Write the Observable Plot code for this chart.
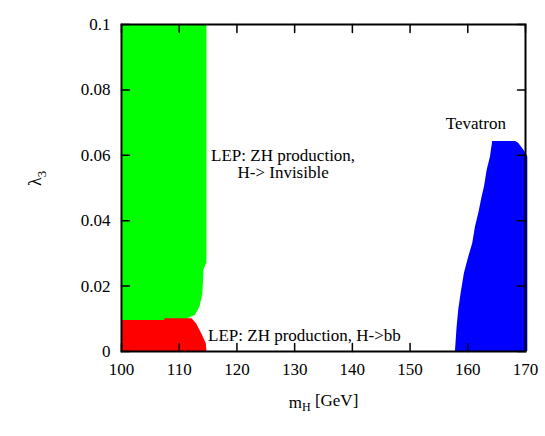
<!DOCTYPE html>
<html><head><meta charset="utf-8">
<script src="https://cdn.jsdelivr.net/npm/d3@7"></script>
<script src="https://cdn.jsdelivr.net/npm/@observablehq/plot@0.6"></script>
<style>body{margin:0;background:#fff}</style>
</head><body><div id="chart"></div>
<script>
// axis ticks
const xTicks = [100, 110, 120, 130, 140, 150, 160, 170];
const yTicks = [0, 0.02, 0.04, 0.06, 0.08, 0.1];
const yTickLabels = ["0", "0.02", "0.04", "0.06", "0.08", "0.1"];

// LEP: ZH production, H -> invisible (green)
const greenLambda = [0.0095, 0.0101, 0.011, 0.0136, 0.0177, 0.025, 0.0271, 0.1];
const greenLeft   = [100, 100, 100, 100, 100, 100, 100, 100];
const greenRight  = [111.2, 111.6, 112.8, 113.6, 114.1, 114.3, 114.8, 114.8];

// LEP: ZH production, H -> bb (red)
const redLambda = [0, 0.0024, 0.0054, 0.0085, 0.0095, 0.0095, 0.0100];
const redLeft   = [100, 100, 100, 100, 100, 107.5, 107.5];
const redRight  = [114.8, 114.7, 113.9, 113.0, 112.5, 112.5, 112.2];

// Tevatron (blue)
const blueLambda = [0, 0.0074, 0.0126, 0.0178, 0.0239, 0.0289, 0.033, 0.0381, 0.0422, 0.0473, 0.0503, 0.0554, 0.0595, 0.0616, 0.0637, 0.0642];
const blueLeft   = [157.86, 158.15, 158.43, 158.85, 159.42, 160.17, 160.86, 161.33, 161.9, 162.49, 162.89, 163.36, 163.93, 164.1, 164.28, 164.3];
const blueRight  = [170.4, 170.4, 170.4, 170.4, 170.4, 170.4, 170.4, 170.4, 170.4, 170.4, 170.4, 170.4, 170.4, 169.7, 168.8, 168.3];

// labels
const centerLabels = [
  {x: 128.0, y: 0.0573, t: "LEP: ZH production,\nH-> Invisible"},
  {x: 161.4, y: 0.0698, t: "Tevatron"}
];
const startLabels = [
  {x: 115.0, y: 0.0049, t: "LEP: ZH production, H->bb"}
];
const xTitle = "mH [GeV]";
const yTitle = "λ3";

const toRows = (ys, x1s, x2s) => ys.map((y, i) => ({y, x1: x1s[i], x2: x2s[i]}));
const green = toRows(greenLambda, greenLeft, greenRight);
const red = toRows(redLambda, redLeft, redRight);
const blue = toRows(blueLambda, blueLeft, blueRight);

const FONT = "'Liberation Serif', 'Times New Roman', serif";
const tickShape = {draw(context, l) { context.moveTo(0, 0); context.lineTo(0, -l); }};
const tk = {length: 8, anchor: "start", shape: tickShape, strokeWidth: 1.5, stroke: "black"};

const plot = Plot.plot({
  width: 545,
  height: 436,
  marginLeft: 121,
  marginRight: 20,
  marginTop: 24,
  marginBottom: 85,
  x: {domain: [100, 170]},
  y: {domain: [0, 0.1]},
  style: {fontFamily: FONT, fontSize: "17px", color: "black", background: "white"},
  marks: [
    Plot.areaX(green, {y: "y", x1: "x1", x2: "x2", fill: "#00ff00"}),
    Plot.areaX(red, {y: "y", x1: "x1", x2: "x2", fill: "#ff0000"}),
    Plot.areaX(blue, {y: "y", x1: "x1", x2: "x2", fill: "#0000ff"}),
    Plot.frame({stroke: "black", strokeWidth: 2}),
    Plot.axisX({ticks: xTicks, tickSize: 0, tickPadding: 11, label: null, fontSize: 17, fontFamily: FONT, fontVariant: "normal"}),
    Plot.axisY({ticks: yTicks, tickFormat: d => yTickLabels[yTicks.indexOf(d)], tickSize: 0, tickPadding: 11, label: null, fontSize: 17, fontFamily: FONT, fontVariant: "normal"}),
    Plot.vector(xTicks, {x: d => d, y: yTicks[0], rotate: 0, ...tk}),
    Plot.vector(xTicks, {x: d => d, y: yTicks[yTicks.length - 1], rotate: 180, ...tk}),
    Plot.vector(yTicks, {y: d => d, x: xTicks[0], rotate: 90, ...tk}),
    Plot.vector(yTicks, {y: d => d, x: xTicks[xTicks.length - 1], rotate: -90, ...tk}),
    Plot.text(centerLabels, {x: "x", y: "y", text: "t", textAnchor: "middle", lineHeight: 1.0, fontSize: 17, fontFamily: FONT, fill: "black"}),
    Plot.text(startLabels, {x: "x", y: "y", text: "t", textAnchor: "start", fontSize: 17, fontFamily: FONT, fill: "black"}),
    Plot.text([xTitle], {frameAnchor: "bottom", dy: 56, fontSize: 17, fontFamily: FONT, fill: "black"}),
    Plot.text([yTitle], {frameAnchor: "left", dx: -86, dy: -2, rotate: -90, fontSize: 18, fontFamily: FONT, fill: "black"})
  ]
});

document.getElementById("chart").appendChild(plot);

// subscripts
d3.select(plot).selectAll("text").each(function () {
  const t = d3.select(this);
  if (this.textContent === xTitle) {
    t.text(null);
    t.append("tspan").text("m");
    t.append("tspan").attr("dy", "0.3em").attr("font-size", "12px").text("H");
    t.append("tspan").attr("dy", "-0.3em").text(" [GeV]");
  } else if (this.textContent === yTitle) {
    t.text(null);
    t.append("tspan").text("λ");
    t.append("tspan").attr("dy", "0.35em").attr("font-size", "13px").text("3");
  }
});
</script>
</body></html>
